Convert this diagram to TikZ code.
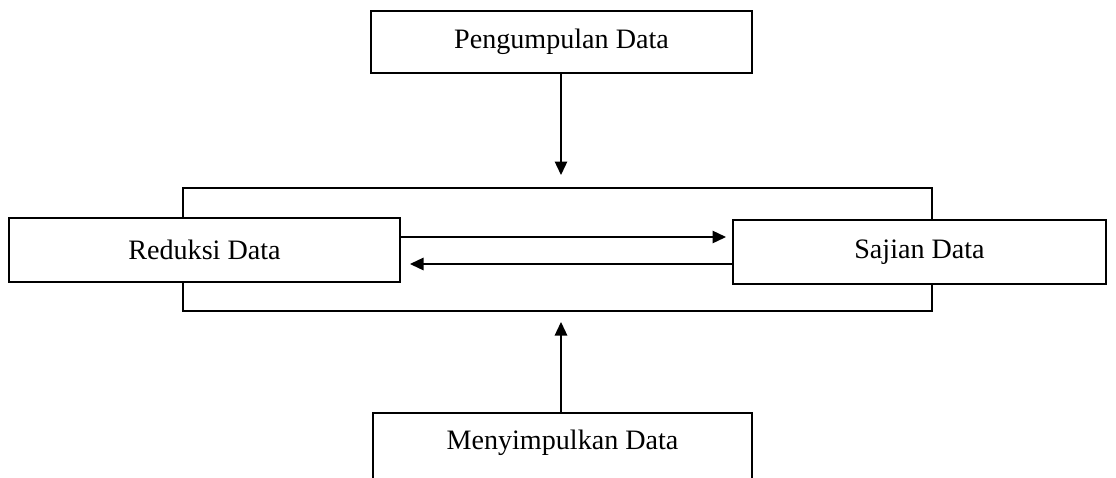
\documentclass[tikz,border=0pt]{standalone}
\usepackage{fontspec}
\setmainfont{Liberation Serif}
\usetikzlibrary{arrows.meta,calc,positioning}

\tikzset{
  stagebox/.style={draw,line width=0.75pt,fill=white,inner sep=0pt,
    font=\fontsize{16}{19}\selectfont},
  flowarrow/.style={line width=0.75pt,-{Triangle[length=0.27cm,width=0.25cm]}}
}

\begin{document}
\begin{tikzpicture}[x=0.02cm,y=-0.02cm]
  \clip (0,0) rectangle (1116,477);
  % outer frame behind the two middle boxes
  \node[stagebox,minimum width=14.98cm,minimum height=2.46cm] (frame) at (557.5,249.5) {};
  \node[stagebox,minimum width=7.62cm,minimum height=1.24cm] (pengumpulan) at (561.5,42) {Pengumpulan Data};
  \node[stagebox,minimum width=7.82cm,minimum height=1.28cm] (reduksi) at (204.5,250) {Reduksi Data};
  \node[stagebox,minimum width=7.46cm,minimum height=1.28cm] (sajian) at (919.5,252) {Sajian Data};
  \node[stagebox,minimum width=7.58cm,text height=0.72cm,text depth=1.4cm,anchor=base] (menyimpulkan) at (562.5,449) {Menyimpulkan Data};
  % arrow end points
  \coordinate (topend) at (561,175);
  \coordinate (botend) at (561,322);
  \coordinate (rightend) at (726,237);
  \coordinate (leftend) at (410,264);
  \draw[flowarrow] (pengumpulan.south -| topend) -- (topend);
  \draw[flowarrow] (menyimpulkan.north -| botend) -- (botend);
  \draw[flowarrow] (reduksi.east |- rightend) -- (rightend);
  \draw[flowarrow] (sajian.west |- leftend) -- (leftend);
\end{tikzpicture}
\end{document}
